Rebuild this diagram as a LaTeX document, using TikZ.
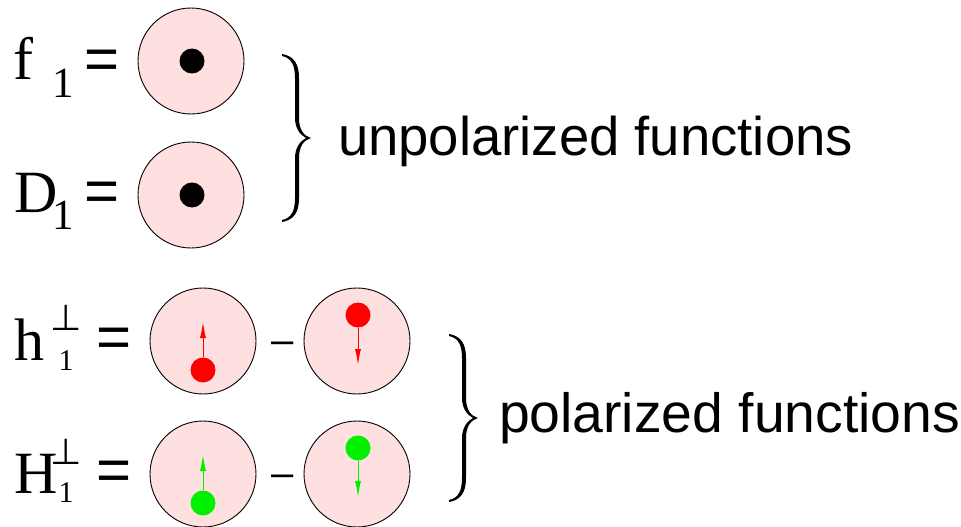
\documentclass[tikz,border=0pt]{standalone}
\usepackage{fontspec}
\setmainfont{Liberation Serif}
\newfontfamily\arial{Liberation Sans}
\newfontfamily\dvs{DejaVu Sans}
\usetikzlibrary{arrows.meta}
\definecolor{pinkbg}{RGB}{255,224,224}
\definecolor{spinred}{RGB}{255,0,0}
\definecolor{spingreen}{RGB}{0,240,0}
\tikzset{
  ball/.style={circle,draw=black,line width=0.9pt,fill=pinkbg,minimum size=106pt,inner sep=0pt},
  dotn/.style={circle,fill=#1,minimum size=25pt,inner sep=0pt},
  spin/.style={draw=#1,line width=1pt,-{Latex[length=16pt,width=6pt]}},
  lbl/.style={anchor=base west,inner sep=0pt,outer sep=0pt},
  big/.style={lbl,font=\fontsize{#1}{#1}\selectfont},
  sans/.style={lbl,font=\arial\fontsize{#1}{#1}\selectfont},
  perpsym/.style={lbl,font=\dvs\fontsize{36}{36}\selectfont},
  mybrace/.pic={
    \fill[black] (-28,-84) .. controls (-16,-82) and (-11,-74) .. (-11,-60) -- (-11,-20)
      .. controls (-11,-8) and (-6,-2) .. (1,0)
      .. controls (-6,2) and (-11,8) .. (-11,20) -- (-11,60)
      .. controls (-11,74) and (-16,82) .. (-28,84)
      -- (-28,82) .. controls (-18,80) and (-15,72) .. (-15,60) -- (-15,20)
      .. controls (-15,10) and (-10,3) .. (-4,0)
      .. controls (-10,-3) and (-15,-10) .. (-15,-20) -- (-15,-60)
      .. controls (-15,-72) and (-18,-80) .. (-28,-82) -- cycle;
  }
}
\begin{document}
\begin{tikzpicture}[x=1pt,y=-1pt]
\useasboundingbox (0,0) rectangle (961,527);
% labels
\node[big=60] (f) at (13,80) {f};
\node[big=43] (f1) at (52,97) {1};
\node[sans=60] (eq1) at (84.5,80) {=};
\node[big=60] (D) at (14,212) {D};
\node[big=43] (D1) at (52,229) {1};
\node[sans=60] (eq2) at (84.5,211.5) {=};
\node[big=60] (h) at (14,360) {h};
\node[perpsym] (hp) at (50,330) {⊥};
\node[big=30] (h1) at (58.5,370) {1};
\node[sans=60] (eq3) at (96.5,357.5) {=};
\node[big=60] (H) at (14,493) {H};
\node[perpsym] (Hp) at (50,464) {⊥};
\node[big=30] (H1) at (58.5,502) {1};
\node[sans=60] (eq4) at (96.5,490.5) {=};
% circles
\node[ball] (c1) at (191,61) {};
\node[ball] (c2) at (191,195) {};
\node[ball] (c3) at (203,341) {};
\node[ball] (c4) at (357,341) {};
\node[ball] (c5) at (203,474) {};
\node[ball] (c6) at (357,474) {};
% dots
\node[dotn=black] (d1) at (192,61) {};
\node[dotn=black] (d2) at (192,195) {};
\node[dotn=spinred] (d3) at (203,370) {};
\node[dotn=spinred] (d4) at (358,315) {};
\node[dotn=spingreen] (d5) at (203,503) {};
\node[dotn=spingreen] (d6) at (358,448) {};
% arrow tips
\coordinate (t3) at (203,322);
\coordinate (t4) at (358,365);
\coordinate (t5) at (203,455);
\coordinate (t6) at (358,497);
\draw[spin=spinred] (d3.north) -- (t3);
\draw[spin=spinred] (d4.south) -- (t4);
\draw[spin=spingreen] (d5.north) -- (t5);
\draw[spin=spingreen] (d6.south) -- (t6);
% minus signs
\node[sans=40] (m1) at (271,353) {–};
\node[sans=40] (m2) at (271,486) {–};
% braces
\pic at (310,138) {mybrace};
\pic at (477,418) {mybrace};
% texts
\node[sans=54.5] (unp) at (338,155) {unpolarized functions};
\node[sans=55.3] (pol) at (499,432) {polarized functions};
\end{tikzpicture}
\end{document}
